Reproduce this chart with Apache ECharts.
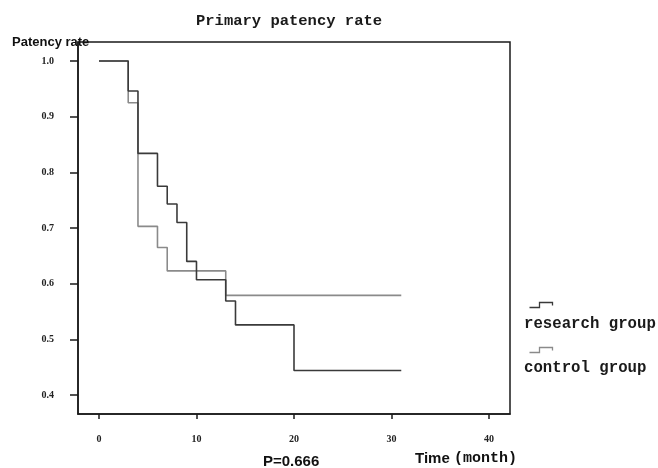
<!DOCTYPE html>
<html>
<head>
<meta charset="utf-8">
<script src="https://cdn.jsdelivr.net/npm/echarts@6/dist/echarts.min.js"></script>
<style>
  html, body { margin: 0; padding: 0; background: #fff; }
  #main { width: 658px; height: 468px; }
</style>
</head>
<body>
<div id="main"></div>
<script>
// Kaplan-Meier curves, [month, patency rate]
var seriesNames = ['research group', 'control group'];
var researchData = [[0, 1.0], [3, 0.946], [4, 0.834], [6, 0.775], [7, 0.743], [8, 0.71],
    [9, 0.64], [10, 0.607], [13, 0.569], [14, 0.526], [20, 0.444], [31, 0.444]];
var controlData = [[0, 1.0], [3, 0.925], [4, 0.703], [6, 0.665], [7, 0.623], [13, 0.579], [31, 0.579]];
var xTicks = [0, 10, 20, 30, 40];
var yTicks = [0.4, 0.5, 0.6, 0.7, 0.8, 0.9, 1.0];

var lineColor = ['#3a3a3a', '#8a8a8a'];
var axisColor = '#1a1a1a';

var myChart = echarts.init(document.getElementById('main'));

var option = {
    backgroundColor: '#fff',
    animation: false,
    title: {
        text: 'Primary patency rate',
        left: 191,
        top: 8,
        textStyle: {
            fontFamily: 'Liberation Mono',
            fontSize: 15.5,
            fontWeight: 'bold',
            color: '#1a1a1a'
        }
    },
    grid: {
        left: 78,
        top: 42,
        right: 148,
        bottom: 54,
        show: true,
        borderColor: axisColor,
        borderWidth: 1.5
    },
    xAxis: {
        type: 'value',
        min: -2.15,
        max: 42.15,
        axisLine: { show: true, onZero: false, lineStyle: { color: axisColor, width: 1.5 } },
        axisTick: { show: true, length: 5, customValues: xTicks, lineStyle: { color: axisColor, width: 1.5 } },
        axisLabel: {
            customValues: xTicks,
            margin: 20,
            fontFamily: 'Liberation Serif',
            fontWeight: 'bold',
            fontSize: 10,
            color: '#222'
        },
        splitLine: { show: false }
    },
    yAxis: {
        type: 'value',
        min: 0.366,
        max: 1.034,
        name: 'Patency rate',
        nameLocation: 'end',
        nameGap: 0,
        nameTextStyle: {
            fontFamily: 'Liberation Sans Narrow, Liberation Sans',
            fontWeight: 'bold',
            fontSize: 13,
            color: '#111',
            align: 'left',
            verticalAlign: 'middle',
            padding: [0, 0, 0, -66]
        },
        axisLine: { show: true, onZero: false, lineStyle: { color: axisColor, width: 1.5 } },
        axisTick: { show: true, length: 8, customValues: yTicks, lineStyle: { color: axisColor, width: 1.5 } },
        axisLabel: {
            customValues: yTicks,
            margin: 24,
            fontFamily: 'Liberation Serif',
            fontWeight: 'bold',
            fontSize: 10,
            color: '#222',
            formatter: function (v) { return v.toFixed(1); }
        },
        splitLine: { show: false }
    },
    series: [{
        name: seriesNames[0],
        type: 'line',
        step: 'end',
        symbol: 'none',
        data: researchData,
        lineStyle: { color: lineColor[0], width: 1.6 },
        z: 3
    }, {
        name: seriesNames[1],
        type: 'line',
        step: 'end',
        symbol: 'none',
        data: controlData,
        lineStyle: { color: lineColor[1], width: 1.6 },
        z: 2
    }],
    graphic: [
        // legend icons (small step shape) and labels
        {
            type: 'polyline', left: 527, top: 300,
            shape: { points: [[0, 5], [10, 5], [10, 0], [23, 0], [23, 3]] },
            style: { stroke: lineColor[0], lineWidth: 1.3, fill: null }
        },
        {
            type: 'text', left: 524, top: 316,
            style: { text: seriesNames[0], fontFamily: 'Liberation Mono', fontWeight: 'bold', fontSize: 15.7, fill: '#1a1a1a' }
        },
        {
            type: 'text', left: 524, top: 360,
            style: { text: seriesNames[1], fontFamily: 'Liberation Mono', fontWeight: 'bold', fontSize: 15.7, fill: '#1a1a1a' }
        },
        {
            type: 'polyline', left: 527, top: 345,
            shape: { points: [[0, 5], [10, 5], [10, 0], [23, 0], [23, 3]] },
            style: { stroke: lineColor[1], lineWidth: 1.3, fill: null }
        },
        {
            type: 'text', left: 263, top: 454,
            style: { text: 'P=0.666', fontFamily: 'Liberation Sans Narrow, Liberation Sans', fontWeight: 'bold', fontSize: 15, fill: '#111' }
        },
        {
            type: 'text', left: 415, top: 451,
            style: {
                text: '{a|Time }{b|(month)}',
                rich: {
                    a: { fontFamily: 'Liberation Sans Narrow, Liberation Sans', fontWeight: 'bold', fontSize: 15, fill: '#111' },
                    b: { fontFamily: 'Liberation Mono', fontWeight: 'bold', fontSize: 15, fill: '#111' }
                }
            }
        }
    ]
};

myChart.setOption(option);

window.addEventListener('resize', function () {
    myChart.resize();
});
</script>
</body>
</html>
